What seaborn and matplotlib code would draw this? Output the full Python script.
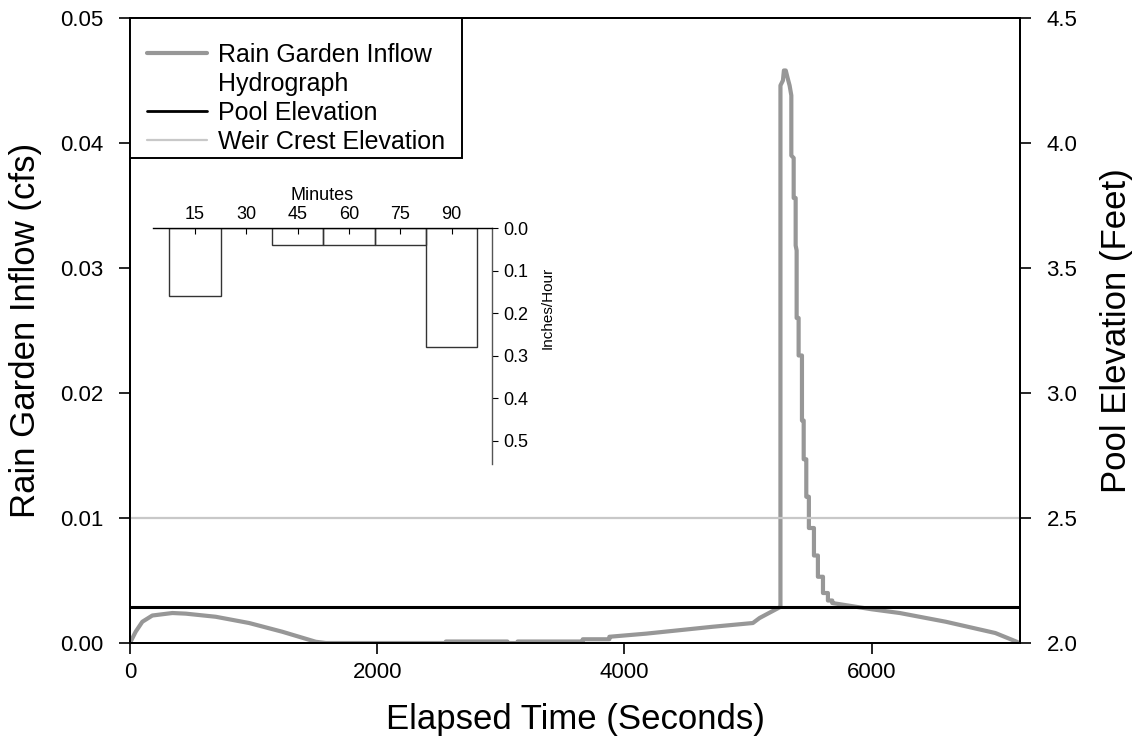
import numpy as np
import pandas as pd
import matplotlib
matplotlib.use("Agg")
import matplotlib.pyplot as plt
from matplotlib.lines import Line2D
from matplotlib.patches import Rectangle
from matplotlib.ticker import FormatStrFormatter, MultipleLocator
import seaborn as sns

# --- data ---
# rain garden inflow hydrograph (seconds, cfs), traced vertex by vertex
flow_time = [0, 46, 100, 181, 343, 451, 694, 964, 1233, 1503, 1584,
             2556, 2556, 3053, 3053, 3136, 3136, 3663, 3663, 3878, 3878,
             4176, 4713, 5039, 5093, 5245, 5262, 5262, 5282, 5290, 5305,
             5320, 5336, 5350, 5350, 5369, 5369, 5385, 5385, 5393, 5393,
             5409, 5409, 5436, 5436, 5450, 5450, 5471, 5471, 5492, 5492,
             5533, 5533, 5565, 5565, 5606, 5606, 5646, 5646, 5681, 5681,
             6000, 6227, 6600, 7000, 7174, 7190]
flow_cfs = [0.0, 0.0009, 0.0017, 0.0022, 0.0024, 0.00235, 0.0021, 0.0016,
            0.0009, 0.0001, 0.0,
            0.0, 0.00012, 0.00012, 0.0, 0.0, 0.00012, 0.00012, 0.0003, 0.0003,
            0.0005, 0.00075, 0.0013, 0.0016, 0.0020, 0.0028, 0.0029, 0.0446,
            0.0450, 0.0458, 0.0458, 0.0452, 0.0446, 0.0438, 0.0390, 0.0388,
            0.0356, 0.0356, 0.0318, 0.0314, 0.0260, 0.0260, 0.0230, 0.0230,
            0.0178, 0.0178, 0.0147, 0.0147, 0.0117, 0.0117, 0.0092, 0.0092,
            0.0070, 0.0070, 0.0053, 0.0053, 0.0040, 0.0040, 0.0034, 0.0034,
            0.0032, 0.0027, 0.0024, 0.0017, 0.0008, 0.0001, 0.0]

# pool / weir elevations (feet) over the run
level_time = [0, 7200]
pool_elev = [2.144, 2.144]
weir_elev = [2.5, 2.5]

# rainfall hyetograph (minutes, inches/hour)
rain_minutes = [15, 30, 45, 60, 75, 90]
rain_intensity = [0.16, 0.0, 0.04, 0.04, 0.04, 0.28]

legend_labels = ["Rain Garden Inflow", "Hydrograph", "Pool Elevation",
                 "Weir Crest Elevation"]

FLOW_GRAY = "#979797"
WEIR_GRAY = "#c8c8c8"

# --- style ---
sns.set_theme(style="ticks")
plt.rcParams["font.family"] = ["Liberation Sans", "DejaVu Sans"]
plt.rcParams["axes.linewidth"] = 1.4
plt.rcParams["text.color"] = "black"
plt.rcParams["axes.labelcolor"] = "black"

fig = plt.figure(figsize=(11.35, 7.49), dpi=100)
ax = fig.add_axes([0.1145, 0.1415, 0.7842, 0.8345])

flow_df = pd.DataFrame({"t": flow_time, "q": flow_cfs})
sns.lineplot(data=flow_df, x="t", y="q", estimator=None, sort=False,
             color=FLOW_GRAY, linewidth=3.0, ax=ax)

ax.set_xlim(0, 7200)
ax.set_ylim(0, 0.05)
ax.xaxis.set_major_locator(MultipleLocator(2000))
ax.yaxis.set_major_locator(MultipleLocator(0.01))
ax.yaxis.set_major_formatter(FormatStrFormatter("%.2f"))
ax.set_xlabel("Elapsed Time (Seconds)", fontsize=25, labelpad=14)
ax.set_ylabel("Rain Garden Inflow (cfs)", fontsize=25, labelpad=13)
ax.tick_params(labelsize=16, direction="out", length=8, width=1.2,
               colors="black", pad=6)
ax.tick_params(axis="y", pad=11)
for s in ax.spines.values():
    s.set_color("black")

ax2 = ax.twinx()
level_df = pd.DataFrame({"t": level_time, "pool": pool_elev, "weir": weir_elev})
sns.lineplot(data=level_df, x="t", y="weir", color=WEIR_GRAY, linewidth=1.6,
             ax=ax2)
sns.lineplot(data=level_df, x="t", y="pool", color="black", linewidth=2.2,
             ax=ax2)
ax2.set_ylim(2.0, 4.5)
ax2.yaxis.set_major_locator(MultipleLocator(0.5))
ax2.yaxis.set_major_formatter(FormatStrFormatter("%.1f"))
ax2.set_ylabel("Pool Elevation (Feet)", fontsize=25, labelpad=16)
ax2.tick_params(labelsize=16, direction="out", length=8, width=1.2,
                colors="black", pad=11)
for s in ax2.spines.values():
    s.set_color("black")

# legend box drawn separately so the padding can match the original
ax2.add_patch(Rectangle((0, 0.776), 0.3735, 0.224, transform=ax2.transAxes,
                        facecolor="white", edgecolor="black", linewidth=1.4,
                        zorder=4))
handles = [Line2D([], [], color=FLOW_GRAY, linewidth=3.0),
           Line2D([], [], color="none"),
           Line2D([], [], color="black", linewidth=2.0),
           Line2D([], [], color=WEIR_GRAY, linewidth=1.6)]
leg = ax2.legend(handles, legend_labels, loc="upper left",
                 bbox_to_anchor=(0.0191, 0.984), borderaxespad=0, fontsize=18,
                 frameon=False, handlelength=2.4, handletextpad=0.45,
                 labelspacing=0.2, borderpad=0, title=" ", title_fontsize=7)
leg.set_zorder(5)
for txt in leg.get_texts():
    txt.set_color("black")

# --- rainfall inset ---
ins = fig.add_axes([0.1351, 0.3805, 0.2981, 0.3147])
ins.patch.set_alpha(0)
ins.bar(rain_minutes, rain_intensity, width=15, fill=False,
        edgecolor="#333333", linewidth=1.0)
ins.set_xlim(2.8, 101.7)
ins.set_ylim(0.555, 0)
ins.set_xticks(rain_minutes)
ins.yaxis.set_major_locator(MultipleLocator(0.1))
ins.yaxis.set_major_formatter(FormatStrFormatter("%.1f"))
ins.xaxis.tick_top()
ins.xaxis.set_label_position("top")
ins.yaxis.tick_right()
ins.yaxis.set_label_position("right")
ins.spines["left"].set_visible(False)
ins.spines["bottom"].set_visible(False)
ins.spines["top"].set_color("black")
ins.spines["top"].set_linewidth(1.0)
ins.spines["right"].set_color("#555555")
ins.spines["right"].set_linewidth(1.0)
ins.tick_params(axis="x", direction="in", length=4, width=0.8,
                labelsize=13, pad=4, colors="black")
ins.tick_params(axis="y", direction="out", length=4, width=0.8,
                labelsize=13, pad=4, colors="black")
ins.set_xlabel("Minutes", fontsize=13, labelpad=4)
ins.set_ylabel("Inches/Hour", fontsize=11)
ins.yaxis.set_label_coords(1.145, 0.661)

fig.savefig("out.png", dpi=100)
